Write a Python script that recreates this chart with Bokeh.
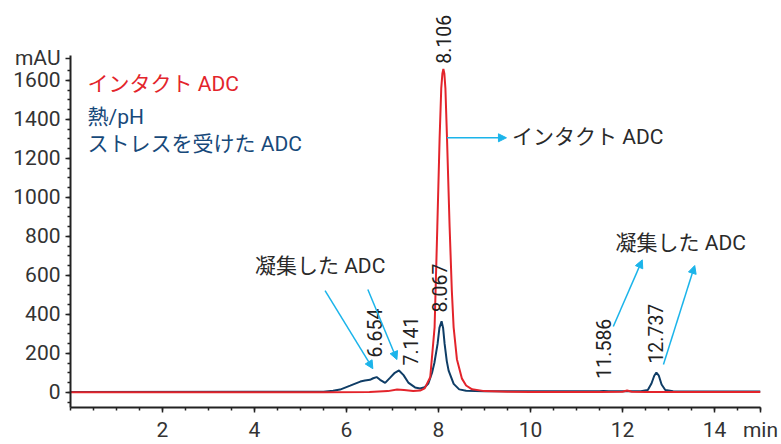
from bokeh.plotting import figure
from bokeh.models import (Range1d, FixedTicker, Label, Arrow, NormalHead,
                          ColumnDataSource)
from bokeh.core.properties import value
from bokeh.embed import file_html
from bokeh.resources import INLINE
import math

# ---- data ----
intact_t = [0.0, 5.5, 6.5, 6.9, 7.1, 7.25, 7.45, 7.6, 7.7, 7.82, 7.915, 7.974,
            8.024, 8.06, 8.085, 8.106, 8.127, 8.15, 8.185, 8.242, 8.29, 8.329,
            8.40, 8.51, 8.6, 8.73, 9.0, 9.5, 10.0, 11.5, 12.0, 12.1, 12.2,
            12.5, 15.0]
intact_mau = [0, 0, 1, 6, 14, 12, 7, 9, 20, 77, 333, 846,
              1302, 1560, 1635, 1658, 1635, 1560, 1302, 846, 520, 333,
              170, 70, 35, 15, 6, 3, 2, 2, 3, 9, 3,
              2, 1]

stressed_t = [0.0, 5.5, 5.71, 5.86, 6.08, 6.30, 6.40, 6.51, 6.58, 6.654, 6.73,
              6.84, 6.95, 7.05, 7.141, 7.24, 7.35, 7.49, 7.60, 7.70, 7.78,
              7.86, 7.91, 7.98, 8.02, 8.067, 8.10, 8.133, 8.18, 8.22, 8.33,
              8.45, 8.6, 9.0, 11.5, 11.586, 11.7, 12.4, 12.55, 12.63, 12.69,
              12.737, 12.79, 12.85, 12.93, 13.1, 15.0]
stressed_mau = [2, 3, 8, 14, 34, 55, 60, 64, 72, 78, 64,
                48, 75, 100, 112, 88, 48, 25, 19, 26, 45,
                100, 150, 248, 330, 364, 330, 248, 160, 111, 43,
                15, 8, 5, 5, 7, 5, 5, 12, 45, 85,
                101, 85, 40, 12, 5, 4]

peak_labels = ["6.654", "7.141", "8.067", "8.106", "11.586", "12.737"]
peak_label_t = [6.612, 7.397, 8.028, 8.115, 11.58, 12.71]
peak_label_mau = [178, 137, 409, 1685, 70, 147]

x_ticks = [2, 4, 6, 8, 10, 12, 14, 15]
x_tick_text = {15: "min"}
y_ticks = [0, 200, 400, 600, 800, 1000, 1200, 1400, 1600, 1714]
y_tick_text = {1714: "mAU"}

legend_intact = "インタクト ADC"
legend_stressed_1 = "熱/pH"
legend_stressed_2 = "ストレスを受けた ADC"
note_intact = "インタクト ADC"
note_aggregate = "凝集した ADC"

RED = "#e3242b"
NAVY = "#0f3d66"
NAVY_TXT = "#17497a"
CYAN = "#1bb4ea"
TXT = "#2a2a2a"
FONT = "Roboto, Noto Sans CJK JP"

Y_MIN, Y_AXIS_TOP = -78, 1727

p = figure(width=781, height=444, output_backend="svg", toolbar_location=None,
           x_range=Range1d(0, 15), y_range=Range1d(Y_MIN, 2009),
           min_border_left=70, min_border_right=21, min_border_top=0,
           min_border_bottom=37)
p.outline_line_color = None
p.grid.visible = False
p.background_fill_color = "white"
p.border_fill_color = "white"

p.xaxis.ticker = FixedTicker(ticks=x_ticks,
                             minor_ticks=[i * 0.5 for i in range(0, 31)])
p.xaxis.major_label_overrides = x_tick_text
p.yaxis.ticker = FixedTicker(ticks=y_ticks,
                             minor_ticks=list(range(-50, 1700, 50)))
p.yaxis.major_label_overrides = y_tick_text
p.yaxis.bounds = (Y_MIN, Y_AXIS_TOP)
for ax in (p.xaxis, p.yaxis):
    ax.axis_line_color = "#222222"
    ax.axis_line_width = 2
    ax.major_tick_line_color = "#222222"
    ax.minor_tick_line_color = "#222222"
    ax.major_tick_line_width = 1.5
    ax.minor_tick_line_width = 1.5
    ax.major_tick_out = 5
    ax.major_tick_in = 0
    ax.minor_tick_out = 3
    ax.minor_tick_in = 0
    ax.major_label_text_font = "Roboto"
    ax.major_label_text_font_size = "21px"
    ax.major_label_text_color = "#333333"
    ax.major_label_standoff = 5

p.line(stressed_t, stressed_mau, line_color=NAVY, line_width=2)
p.line(intact_t, intact_mau, line_color=RED, line_width=2)

# peak labels
src = ColumnDataSource(dict(x=peak_label_t, y=peak_label_mau, t=peak_labels))
p.text(x="x", y="y", text="t", source=src, angle=math.pi / 2,
       text_align="left", text_baseline="middle",
       text_font=value("Roboto"), text_font_size="19.5px", text_color="#222222")

# legend-like texts
for yv, txt, col in [(1580, legend_intact, RED),
                     (1414, legend_stressed_1, NAVY_TXT),
                     (1273, legend_stressed_2, NAVY_TXT)]:
    p.add_layout(Label(x=0.37, y=yv, text=txt, text_color=col,
                       text_font=FONT, text_font_size="21px",
                       text_baseline="middle"))

# annotation texts
for xv, yv, txt in [(9.60, 1309, note_intact), (4.01, 650, note_aggregate),
                    (11.85, 765, note_aggregate)]:
    p.add_layout(Label(x=xv, y=yv, text=txt, text_color=TXT,
                       text_font=FONT, text_font_size="21px",
                       text_baseline="middle"))

# arrows
arrow_x0 = [5.534, 6.464, 8.185, 11.80, 12.89]
arrow_y0 = [521, 527, 1305, 337, 142]
arrow_x1 = [6.573, 7.096, 9.477, 12.43, 13.57]
arrow_y1 = [121, 168, 1305, 679, 650]
for xs, ys, xe, ye in zip(arrow_x0, arrow_y0, arrow_x1, arrow_y1):
    p.add_layout(Arrow(end=NormalHead(size=8, fill_color=CYAN, line_color=CYAN),
                       x_start=xs, y_start=ys, x_end=xe, y_end=ye,
                       line_color=CYAN, line_width=1.5))

open("out.html", "w").write(file_html(p, INLINE))
